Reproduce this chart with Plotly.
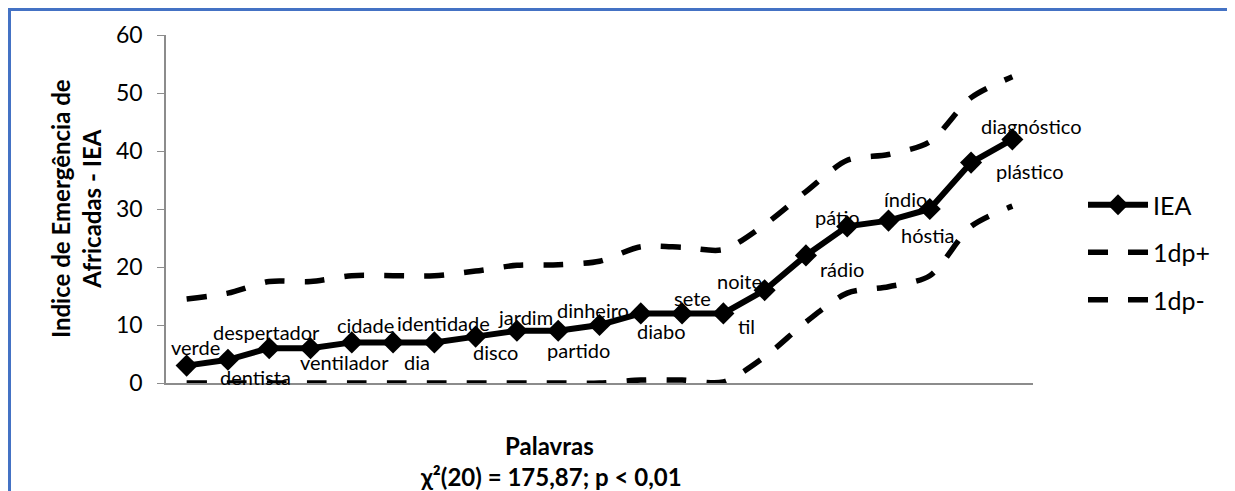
import plotly.graph_objects as go

# ---- data ----
palavras = ["verde", "dentista", "despertador", "ventilador", "cidade", "dia",
            "identidade", "disco", "jardim", "partido", "dinheiro", "diabo",
            "sete", "til", "noite", "rádio", "pátio", "índio", "hóstia",
            "plástico", "diagnóstico"]
iea = [3, 4, 6, 6, 7, 7, 7, 8, 9, 9, 10, 12, 12, 12, 16, 22, 27, 28, 30, 38, 42]
dp_mais = [14.5, 15.5, 17.5, 17.5, 18.5, 18.5, 18.5, 19.3, 20.3, 20.4, 21.0,
           23.5, 23.4, 23.0, 27.3, 33.0, 38.4, 39.4, 41.6, 49.2, 52.8]
dp_menos = [0, 0, 0, 0, 0, 0, 0, 0, 0, 0, 0,
            0.5, 0.5, 0.2, 4.5, 10.5, 15.5, 16.6, 18.5, 27.0, 30.5]
y_ticks = [0, 10, 20, 30, 40, 50, 60]

# label offsets (pixels: right, down) -- styling only
label_dx = [9, 28, -3, 34, 14, 24, 9, 20, 9, 20, -7, 20, 10, 23, -25, 36, -10, 17, -2, 59, 19]
label_dy = [-19, 17, -16, 14, -17, 20, -19, 15, -14, 19, -15, 18, -15, 13, -9, 14, -9, -22, 26, 8, -13]

FONT = "Lato"
PAGE = 8  # default body margin of the html page

# plot area in window pixels: x 166..1033, y 35..383
L, R, T, B = 166, 1033, 35, 383
PW, PH = R - L, B - T


def px(x):
    return (x - L) / PW


def py(y):
    return (B - y) / PH


fig = go.Figure()
fig.add_trace(go.Scatter(
    x=palavras, y=iea, name="IEA", mode="lines+markers",
    line=dict(color="black", width=6),
    marker=dict(symbol="diamond", size=17, color="black"),
    legendgroup="a"))
fig.add_trace(go.Scatter(
    x=palavras, y=dp_mais, name="1dp+", mode="lines",
    line=dict(color="black", width=5.5, dash="20px,20px", shape="spline", smoothing=0.8),
    legendgroup="b"))
fig.add_trace(go.Scatter(
    x=palavras, y=dp_menos, name="1dp-", mode="lines",
    line=dict(color="black", width=5.5, dash="20px,20px", shape="spline", smoothing=0.8),
    legendgroup="c"))

annotations = []
for w, v, dx, dy in zip(palavras, iea, label_dx, label_dy):
    annotations.append(dict(x=w, y=v, xref="x", yref="y", text=w, showarrow=False,
                            xshift=dx, yshift=-dy, xanchor="center", yanchor="middle",
                            font=dict(family=FONT, size=20, color="black")))

# y-axis title
annotations.append(dict(x=px(76), y=py(209), xref="paper", yref="paper",
                        text="<b>Indice de Emergência de<br>Africadas - IEA</b>",
                        textangle=-90, showarrow=False, xanchor="center", yanchor="middle",
                        font=dict(family=FONT, size=24, color="black")))
# x-axis title
annotations.append(dict(x=px(549), y=py(445), xref="paper", yref="paper",
                        text="<b>Palavras</b>", showarrow=False,
                        xanchor="center", yanchor="middle",
                        font=dict(family=FONT, size=24, color="black")))
annotations.append(dict(x=px(551), y=py(476), xref="paper", yref="paper",
                        text="<b>χ²(20) = 175,87; p < 0,01</b>", showarrow=False,
                        xanchor="center", yanchor="middle",
                        font=dict(family=FONT, size=24, color="black")))

W, H = 1235 - PAGE, 491 - PAGE
fig.update_layout(
    width=W, height=H,
    margin=dict(l=L - PAGE, r=W - (R - PAGE), t=T - PAGE, b=H - (B - PAGE),
                autoexpand=False),
    paper_bgcolor="white", plot_bgcolor="white",
    font=dict(family=FONT, color="black"),
    showlegend=True,
    legend=dict(x=px(1083), y=py(182), xanchor="left", yanchor="top",
                font=dict(family=FONT, size=25, color="black"),
                tracegroupgap=12, itemwidth=60, bgcolor="rgba(0,0,0,0)"),
    xaxis=dict(type="category", range=[-0.5, 20.5], showticklabels=False,
               showgrid=False, zeroline=False, showline=True,
               linecolor="#8c8c8c", linewidth=1.5, ticks="", automargin=False),
    yaxis=dict(range=[0, 60], tickvals=y_ticks, ticks="outside", ticklen=7,
               tickcolor="#8c8c8c", showgrid=False, zeroline=False, showline=True,
               linecolor="#8c8c8c", linewidth=1.5, ticklabelstandoff=10,
               automargin=False,
               tickfont=dict(family=FONT, size=23, color="black")),
    annotations=annotations,
    shapes=[dict(type="rect", xref="paper", yref="paper",
                 x0=px(9.5), x1=px(1231.5),
                 y0=py(520), y1=py(9.5),
                 line=dict(color="#4472C4", width=3), fillcolor="rgba(0,0,0,0)",
                 layer="below")],
)

fig.write_html("out.html")
